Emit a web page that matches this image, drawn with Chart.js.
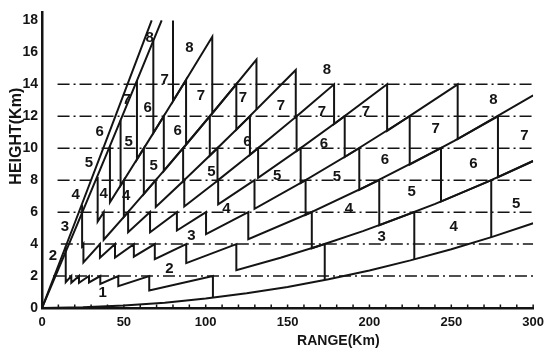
<!DOCTYPE html>
<html>
<head>
<meta charset="utf-8">
<script src="https://cdn.jsdelivr.net/npm/chart.js@4.4.1/dist/chart.umd.min.js"></script>
<style>
    html, body { margin: 0; padding: 0; background: #fff; }
    #wrap { width: 551px; height: 353px; }
</style>
</head>
<body>
<div id="wrap"><canvas id="beamChart" width="551" height="353"></canvas></div>
<script>
// Axis ticks (km)
const rangeTicks = [0, 10, 20, 30, 40, 50, 60, 70, 80, 90, 100, 110, 120, 130, 140, 150, 160, 170, 180, 190, 200, 210, 220, 230, 240, 250, 260, 270, 280, 290, 300];
const heightTicks = [0, 2, 4, 6, 8, 10, 12, 14, 16, 18];

// CAPPI levels (dash-dot lines) and where each line starts
const cappiLevels = [2, 4, 6, 8, 10, 12, 14];
const cappiStart = [6.7, 11.5, 9.5, 9.5, 9.5, 9.5, 9.5];

// Beam heights: [range km, height km]
const beamZero = [[0, 0], [25, 0.04], [50, 0.15], [75, 0.33], [100, 0.59], [125, 0.92], [150, 1.32], [175, 1.80], [200, 2.35], [225, 2.98], [250, 3.68], [275, 4.45], [300, 5.30]];
const beamSteepA = [[0, 0], [20, 5.32], [40, 10.69], [67, 18.0]];
const beamSteepB = [[0, 0], [20, 4.86], [40, 9.77], [60, 14.73], [73.1, 18.0]];

// Beam actually used for each level (saw-tooth traces)
const trace2 = [[14.5, 3.85], [14.5, 1.62], [17.9, 2], [17.9, 1.58], [22.6, 2], [22.6, 1.57], [28.7, 2], [28.7, 1.60], [35.6, 2], [35.6, 1.51], [46.6, 2], [46.6, 1.37], [65.5, 2], [65.5, 1.10], [104.4, 2], [104.4, 0.64]];
const trace4 = [[24.5, 6.45], [24.5, 3.88], [25.3, 4], [25.3, 2.85], [35.4, 4], [35.4, 3.15], [44.6, 4], [44.6, 3.15], [56.1, 4], [56.1, 3.21], [68.9, 4], [68.9, 3.05], [88.1, 4], [88.1, 2.81], [118.7, 4], [118.7, 2.37], [145.7, 3.14], [172.7, 4], [172.7, 1.76]];
const trace6 = [[34, 8.2], [34, 5.41], [37.7, 6], [37.7, 4.27], [52.6, 6], [52.6, 4.74], [66, 6], [66, 4.74], [82.4, 6], [82.4, 4.85], [100.2, 6], [100.2, 4.62], [126, 6], [126, 4.30], [164.8, 6], [164.8, 3.74], [196, 4.81], [227.4, 6], [227.4, 3.04]];
const trace8 = [[41.5, 10.1], [41.5, 6.62], [50, 8], [50, 5.70], [69.5, 8], [69.5, 6.33], [86.9, 8], [86.9, 6.35], [107.6, 8], [107.6, 6.49], [129.8, 8], [129.8, 6.21], [161, 8], [161, 5.82], [206, 8], [206, 5.18], [240.2, 6.52], [274.4, 8], [274.4, 4.43]];
const trace10 = [[48, 11.75], [48, 7.67], [62.2, 10], [62.2, 7.13], [86.2, 10], [86.2, 7.94], [107.2, 10], [107.2, 7.97], [132, 10], [132, 8.15], [158, 10], [158, 7.82], [193.8, 10], [193.8, 7.39], [243.7, 10], [243.7, 6.66], [272, 7.89], [300, 9.2]];
const trace12 = [[58, 14.23], [58, 9.3], [74.4, 12], [74.4, 8.58], [102.5, 12], [102.5, 9.54], [127, 12], [127, 9.59], [155.5, 12], [155.5, 9.82], [184.9, 12], [184.9, 9.45], [224.6, 12], [224.6, 8.97], [251.5, 10.44], [278.5, 12], [278.5, 8.19], [300, 9.2]];
const trace14 = [[68, 16.73], [68, 10.95], [88, 14.27], [88, 10.22], [118.7, 14], [118.7, 11.16], [155, 14.9], [155, 11.95], [178.4, 14], [178.4, 11.51], [210.8, 14], [210.8, 11.09], [253.9, 14], [253.9, 10.57], [300, 13.31]];
const traceTop = [[80, 18], [80, 12.94], [104, 16.97], [104, 12.18], [131, 15.55], [131, 12.41]];

// Region numbers: [range, height, text]
const regionLabels = [
    [37.1, 0.92, '1'],
    [6.7, 3.26, '2'], [77.9, 2.46, '2'],
    [14, 5.05, '3'], [91.3, 4.5, '3'], [207.5, 4.45, '3'],
    [20.5, 7.1, '4'], [37.7, 7.15, '4'], [51.4, 7.03, '4'], [112.6, 6.2, '4'], [187.5, 6.2, '4'], [251.4, 5.05, '4'],
    [28.6, 9.1, '5'], [53, 10.4, '5'], [68.2, 8.9, '5'], [103.5, 8.5, '5'], [143.6, 8.3, '5'], [180.2, 8.2, '5'], [225.8, 7.25, '5'], [289.7, 6.5, '5'],
    [35.3, 11.0, '6'], [64.5, 12.55, '6'], [82.8, 11.06, '6'], [125.4, 10.4, '6'], [172.2, 10.3, '6'], [209.4, 9.3, '6'], [263.5, 9.03, '6'],
    [51.7, 13.0, '7'], [74.9, 14.3, '7'], [97, 13.25, '7'], [122.8, 13.15, '7'], [146, 12.65, '7'], [171, 12.3, '7'], [197.8, 12.25, '7'], [240.4, 11.24, '7'], [294.6, 10.75, '7'],
    [65.7, 16.9, '8'], [90, 16.3, '8'], [174, 14.9, '8'], [275.7, 13.05, '8']
];

const INK = '#141414';

function toPoints(arr) {
    return arr.map(p => ({ x: p[0], y: p[1] }));
}

function solidLine(arr) {
    return {
        data: toPoints(arr),
        showLine: true,
        pointRadius: 0,
        borderColor: INK,
        borderWidth: 2,
        tension: 0
    };
}

const datasets = [];

// dash-dot CAPPI levels
cappiLevels.forEach((h, i) => {
    datasets.push({
        data: [{ x: cappiStart[i], y: h }, { x: 300, y: h }],
        showLine: true,
        pointRadius: 0,
        borderColor: INK,
        borderWidth: 1.5,
        borderDash: [12, 4, 2, 4]
    });
});

[beamZero, beamSteepA, beamSteepB, trace2, trace4, trace6, trace8, trace10, trace12, trace14, traceTop]
    .forEach(arr => datasets.push(solidLine(arr)));

// small ticks along the range axis, numbers and axis names
const decorations = {
    id: 'decorations',
    afterDatasetsDraw(chart) {
        const { ctx, chartArea, scales } = chart;
        const x = scales.x, y = scales.y;
        ctx.save();
        ctx.strokeStyle = INK;
        ctx.lineWidth = 1.5;
        rangeTicks.forEach(v => {
            if (v === 0) return;
            const px = x.getPixelForValue(v);
            ctx.beginPath();
            ctx.moveTo(px, chartArea.bottom);
            ctx.lineTo(px, chartArea.bottom - 3.5);
            ctx.stroke();
        });

        ctx.fillStyle = INK;
        ctx.font = 'bold 15px "Liberation Sans", Arial, sans-serif';
        ctx.textAlign = 'center';
        ctx.textBaseline = 'middle';
        regionLabels.forEach(l => {
            ctx.fillText(l[2], x.getPixelForValue(l[0]), y.getPixelForValue(l[1]));
        });

        ctx.font = 'bold 14px "Liberation Sans", Arial, sans-serif';
        ctx.fillText('RANGE(Km)', x.getPixelForValue(181), chartArea.bottom + 33);

        ctx.font = 'bold 16px "Liberation Sans", Arial, sans-serif';
        ctx.translate(17, y.getPixelForValue(10.75));
        ctx.rotate(-Math.PI / 2);
        ctx.fillText('HEIGHT(Km)', 0, 0);
        ctx.restore();
    }
};

const ctx = document.getElementById('beamChart').getContext('2d');
new Chart(ctx, {
    type: 'scatter',
    data: { datasets: datasets },
    options: {
        responsive: false,
        animation: false,
        devicePixelRatio: 1,
        layout: { padding: { left: 0, right: 16, top: 7, bottom: 0 } },
        plugins: {
            legend: { display: false },
            tooltip: { enabled: false }
        },
        scales: {
            x: {
                type: 'linear',
                min: 0,
                max: 300,
                afterBuildTicks: scale => { scale.ticks = rangeTicks.map(v => ({ value: v })); },
                afterFit: scale => { scale.height = 45; },
                grid: { display: false, drawTicks: false },
                border: { display: true, color: INK, width: 2.5 },
                ticks: {
                    autoSkip: false,
                    maxRotation: 0,
                    padding: 7,
                    color: INK,
                    font: { family: 'Liberation Sans', size: 13, weight: 'bold' },
                    callback: v => (v % 50 === 0 ? v : '')
                }
            },
            y: {
                type: 'linear',
                min: 0,
                max: 18.5,
                afterBuildTicks: scale => { scale.ticks = heightTicks.map(v => ({ value: v })); },
                afterFit: scale => { scale.width = 42; },
                grid: { display: false, drawTicks: false },
                border: { display: true, color: INK, width: 2.5 },
                ticks: {
                    padding: 4,
                    color: INK,
                    font: { family: 'Liberation Sans', size: 14, weight: 'bold' }
                }
            }
        }
    },
    plugins: [decorations]
});
</script>
</body>
</html>
